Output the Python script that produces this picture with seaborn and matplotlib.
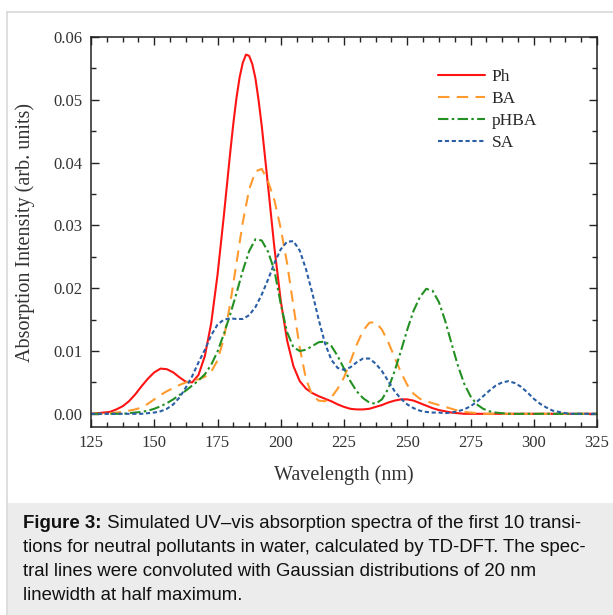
import pandas as pd
import matplotlib
matplotlib.use('Agg')
import matplotlib.pyplot as plt
from matplotlib.patches import Rectangle
from matplotlib.lines import Line2D
from matplotlib.ticker import MultipleLocator, FormatStrFormatter
import seaborn as sns

# Wavelength grid (nm), 2.5 nm steps
WAVELENGTH = [125 + 2.5 * i for i in range(81)]

# Values (absorption intensity, arb. units)
PH = [0.0000, 0.0001, 0.0002, 0.0003, 0.0007, 0.0012, 0.0020, 0.0031, 0.0044, 0.0056,
      0.0066, 0.0072, 0.0071, 0.0066, 0.0058, 0.0051, 0.0050, 0.0062, 0.0092, 0.0144,
      0.0221, 0.0315, 0.0415, 0.0503, 0.0559, 0.0570, 0.0534, 0.0458, 0.0362, 0.0264,
      0.0180, 0.0117, 0.0076, 0.0052, 0.0040, 0.0033, 0.0028, 0.0024, 0.0020, 0.0015,
      0.0011, 0.0008, 0.0007, 0.0007, 0.0008, 0.0011, 0.0014, 0.0018, 0.0021, 0.0023,
      0.0023, 0.0021, 0.0017, 0.0013, 0.0009, 0.0006, 0.0004, 0.0002, 0.0001, 0.0000,
      0.0000, 0.0000, 0.0000, 0.0000, 0.0000, 0.0000, 0.0000, 0.0000, 0.0000, 0.0000,
      0.0000, 0.0000, 0.0000, 0.0000, 0.0000, 0.0000, 0.0000, 0.0000, 0.0000, 0.0000,
      0.0000]
# extra readings around the sharp Ph maximum
PH_PEAK_X = [181.25, 183.75, 186.25, 188.75, 191.25]
PH_PEAK_Y = [0.0462, 0.0536, 0.0572, 0.0557, 0.0499]

BA = [0.0000, 0.0000, 0.0000, 0.0001, 0.0002, 0.0003, 0.0005, 0.0007, 0.0010, 0.0016,
      0.0023, 0.0030, 0.0036, 0.0041, 0.0046, 0.0050, 0.0053, 0.0055, 0.0059, 0.0067,
      0.0085, 0.0120, 0.0175, 0.0240, 0.0305, 0.0357, 0.0386, 0.0390, 0.0370, 0.0340,
      0.0295, 0.0240, 0.0172, 0.0105, 0.0055, 0.0029, 0.0021, 0.0020, 0.0026, 0.0040,
      0.0058, 0.0083, 0.0110, 0.0132, 0.0145, 0.0146, 0.0134, 0.0114, 0.0090, 0.0066,
      0.0046, 0.0032, 0.0024, 0.0020, 0.0017, 0.0014, 0.0011, 0.0008, 0.0005, 0.0003,
      0.0002, 0.0001, 0.0000, 0.0000, 0.0000, 0.0000, 0.0000, 0.0000, 0.0000, 0.0000,
      0.0000, 0.0000, 0.0000, 0.0000, 0.0000, 0.0000, 0.0000, 0.0000, 0.0000, 0.0000,
      0.0000]
PHBA = [0.0000, 0.0000, 0.0000, 0.0000, 0.0000, 0.0000, 0.0001, 0.0002, 0.0003, 0.0005,
        0.0008, 0.0012, 0.0017, 0.0023, 0.0030, 0.0037, 0.0045, 0.0053, 0.0063, 0.0078,
        0.0099, 0.0127, 0.0158, 0.0192, 0.0228, 0.0259, 0.0278, 0.0276, 0.0258, 0.0228,
        0.0175, 0.0130, 0.0106, 0.0100, 0.0102, 0.0108, 0.0114, 0.0115, 0.0108, 0.0092,
        0.0072, 0.0052, 0.0036, 0.0025, 0.0018, 0.0016, 0.0023, 0.0040, 0.0068, 0.0100,
        0.0134, 0.0164, 0.0186, 0.0199, 0.0196, 0.0178, 0.0148, 0.0112, 0.0077, 0.0048,
        0.0028, 0.0015, 0.0008, 0.0004, 0.0002, 0.0001, 0.0000, 0.0000, 0.0000, 0.0000,
        0.0000, 0.0000, 0.0000, 0.0000, 0.0000, 0.0000, 0.0000, 0.0000, 0.0000, 0.0000,
        0.0000]
SA = [0.0000, 0.0000, 0.0000, 0.0000, 0.0000, 0.0000, 0.0000, 0.0000, 0.0000, 0.0001,
      0.0002, 0.0004, 0.0008, 0.0015, 0.0026, 0.0042, 0.0060, 0.0082, 0.0102, 0.0125,
      0.0142, 0.0150, 0.0152, 0.0151, 0.0151, 0.0157, 0.0170, 0.0190, 0.0214, 0.0240,
      0.0262, 0.0274, 0.0275, 0.0260, 0.0230, 0.0192, 0.0150, 0.0112, 0.0086, 0.0073,
      0.0070, 0.0074, 0.0082, 0.0088, 0.0088, 0.0080, 0.0068, 0.0052, 0.0036, 0.0024,
      0.0015, 0.0009, 0.0005, 0.0003, 0.0002, 0.0002, 0.0001, 0.0002, 0.0004, 0.0007,
      0.0012, 0.0019, 0.0028, 0.0037, 0.0045, 0.0050, 0.0052, 0.0049, 0.0043, 0.0034,
      0.0024, 0.0016, 0.0010, 0.0005, 0.0003, 0.0001, 0.0000, 0.0000, 0.0000, 0.0000,
      0.0000]

SERIES = ['Ph', 'BA', 'pHBA', 'SA']
COLORS = {'Ph': '#ff1414', 'BA': '#ff9a2e', 'pHBA': '#239023', 'SA': '#2a5fa5'}
DASHES = {'Ph': '', 'BA': (5.5, 3.5), 'pHBA': (5, 1.6, 1.2, 1.6), 'SA': (2, 1.3)}

CAPTION_BOLD = 'Figure 3:'
CAPTION_LINES = [
    ' Simulated UV\u2013vis absorption spectra of the first 10 transi-',
    'tions for neutral pollutants in water, calculated by TD-DFT. The spec-',
    'tral lines were convoluted with Gaussian distributions of 20 nm',
    'linewidth at half maximum.',
]

frames = [pd.DataFrame({'wavelength': WAVELENGTH + PH_PEAK_X, 'intensity': PH + PH_PEAK_Y,
                        'compound': 'Ph'})]
for name, vals in zip(SERIES[1:], [BA, PHBA, SA]):
    frames.append(pd.DataFrame({'wavelength': WAVELENGTH, 'intensity': vals, 'compound': name}))
df = pd.concat(frames, ignore_index=True)

sns.set_theme(style='ticks')
plt.rcParams['font.family'] = ['Liberation Serif', 'DejaVu Serif']

W, H = 613, 615
fig = plt.figure(figsize=(W / 100, H / 100), dpi=100)
fig.patch.set_facecolor('white')

# screenshot frame and caption panel
fig.patches.append(Rectangle((7 / W, 0), 1, (615 - 503) / H, transform=fig.transFigure,
                             facecolor='#ececec', edgecolor='none', zorder=0))
fig.lines.append(Line2D([7 / W, 7 / W], [0, 1 - 12 / H], transform=fig.transFigure,
                        color='#d9d9d9', lw=1.2))
fig.lines.append(Line2D([7 / W, 1], [1 - 12 / H, 1 - 12 / H], transform=fig.transFigure,
                        color='#d9d9d9', lw=1.2))

ax = fig.add_axes([91 / W, 1 - 427 / H, (597 - 91) / W, (427 - 37) / H])

sns.lineplot(data=df, x='wavelength', y='intensity', hue='compound', style='compound',
             hue_order=SERIES, style_order=SERIES, palette=COLORS, dashes=DASHES,
             errorbar=None, legend=False, linewidth=1.5, ax=ax)

ax.set_xlim(125, 325)
ax.set_ylim(-0.0021, 0.06)
ax.xaxis.set_major_locator(MultipleLocator(25))
ax.xaxis.set_minor_locator(MultipleLocator(6.25))
ax.yaxis.set_major_locator(MultipleLocator(0.01))
ax.yaxis.set_minor_locator(MultipleLocator(0.005))
ax.yaxis.set_major_formatter(FormatStrFormatter('%.2f'))
ax.tick_params(which='both', direction='in', top=True, right=True, width=1.0,
               colors='#222222', labelsize=12, labelcolor='#333333')
ax.tick_params(which='major', length=6, pad=6)
ax.tick_params(which='minor', length=3.5)
for sp in ax.spines.values():
    sp.set_color('#222222')
    sp.set_linewidth(1.1)

ax.set_xlabel('Wavelength (nm)', fontsize=14.5, color='#333333', labelpad=10)
ax.set_ylabel('Absorption Intensity (arb. units)', fontsize=14.5, color='#333333', labelpad=13)

handles = ax.get_lines()[:len(SERIES)]
ax.legend(handles, SERIES, loc='upper left', bbox_to_anchor=(0.655, 0.958), frameon=False,
          fontsize=12.5, handlelength=2.7, handletextpad=0.4, labelspacing=0.34)

# caption
fig.canvas.draw()
renderer = fig.canvas.get_renderer()
cap_font = ['Liberation Sans', 'DejaVu Sans']
cap_size = 13.4
x0 = 23 / W
line_y = [524, 548, 572, 596]
t = fig.text(x0, 1 - line_y[0] / H, CAPTION_BOLD, fontsize=cap_size, fontweight='bold',
             family=cap_font, va='center', ha='left', color='#111111')
bb = t.get_window_extent(renderer)
fig.text(bb.x1 / W, 1 - line_y[0] / H, CAPTION_LINES[0], fontsize=cap_size,
         family=cap_font, va='center', ha='left', color='#111111')
for txt, yy in zip(CAPTION_LINES[1:], line_y[1:]):
    fig.text(x0, 1 - yy / H, txt, fontsize=cap_size, family=cap_font, va='center',
             ha='left', color='#111111')

fig.savefig('out.png', dpi=100)
